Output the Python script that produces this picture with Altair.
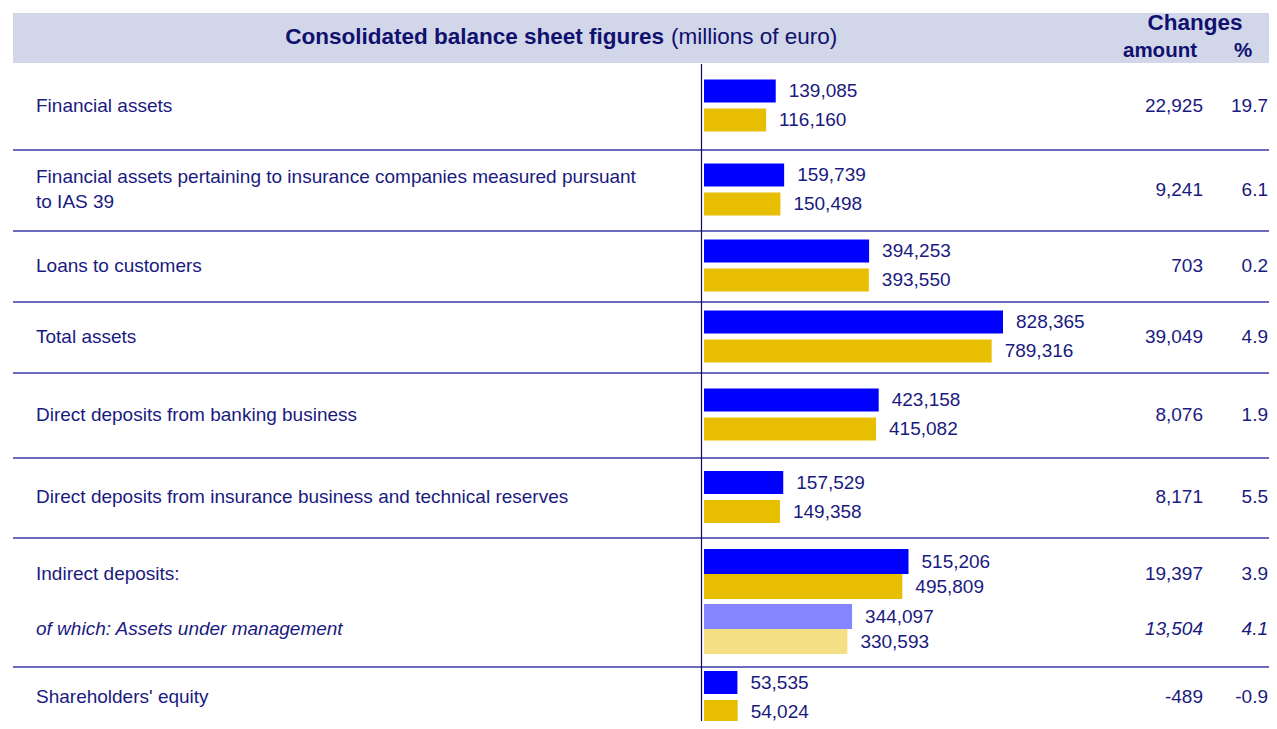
import altair as alt
import pandas as pd

# ---------------- data ----------------
labels = [
    "Financial assets",
    "Financial assets pertaining to insurance companies measured pursuant\nto IAS 39",
    "Loans to customers",
    "Total assets",
    "Direct deposits from banking business",
    "Direct deposits from insurance business and technical reserves",
    "Indirect deposits:",
    "of which: Assets under management",
    "Shareholders' equity",
]
current = [139085, 159739, 394253, 828365, 423158, 157529, 515206, 344097, 53535]
previous = [116160, 150498, 393550, 789316, 415082, 149358, 495809, 330593, 54024]
change_amount = [22925, 9241, 703, 39049, 8076, 8171, 19397, 13504, -489]
change_pct = [19.7, 6.1, 0.2, 4.9, 1.9, 5.5, 3.9, 4.1, -0.9]
section_of = [0, 1, 2, 3, 4, 5, 6, 6, 7]
is_sub_item = [False, False, False, False, False, False, False, True, False]

# ---------------- layout (not data) ----------------
W, H = 1261, 713
HEADER_TOP, HEADER_BOTTOM = 5, 55
SECTION_H = [87, 81, 71, 71, 85, 80, 129, 62]
SUBROW_STEP = 55
LINE_H = 25
TEXT = "#1a1a80"
FONT = "Liberation Sans"
FS = 19
BLUE, GOLD = "#0000ff", "#e8bf00"
BLUE_LIGHT, GOLD_LIGHT = "#8585ff", "#f4df85"

bounds = [HEADER_BOTTOM]
for h in SECTION_H:
    bounds.append(bounds[-1] + h)

centers = []
for i, s in enumerate(section_of):
    members = [k for k, t in enumerate(section_of) if t == s]
    n = len(members)
    j = members.index(i)
    sc = (bounds[s] + bounds[s + 1]) / 2
    centers.append(sc + (j - (n - 1) / 2) * SUBROW_STEP - 1)

rows = pd.DataFrame({
    "label": labels,
    "yc": centers,
    "ylab": [c - (lab.count("\n")) * LINE_H / 2 for c, lab in zip(centers, labels)],
    "amount": [f"{v:,}" for v in change_amount],
    "pct": [f"{v:.1f}" for v in change_pct],
    "sub": is_sub_item,
})

bar_rows = []
for i in range(len(labels)):
    multi = section_of.count(section_of[i]) > 1
    gap = 0 if multi else 3
    c = centers[i]
    for series, val, col, lcol in (("cur", current[i], BLUE, BLUE_LIGHT),
                                   ("prev", previous[i], GOLD, GOLD_LIGHT)):
        if series == "cur":
            y0, y1 = c - 26 + (1 if multi else 0), c - gap
        else:
            y0, y1 = c + gap, c + 26 - (1 if multi else 0)
        bar_rows.append({
            "value": val, "zero": 0,
            "y0": y0, "y1": y1, "ym": (y0 + y1) / 2,
            "fill": lcol if is_sub_item[i] else col,
            "txt": f"{val:,}",
        })
bars = pd.DataFrame(bar_rows)

seps = pd.DataFrame({"y": bounds[1:-1]})

yscale = alt.Scale(domain=[0, H], range=[0, H])
xscale = alt.Scale(type="pow", exponent=0.8, domain=[0, 828365], range=[696, 995])

header = alt.Chart(pd.DataFrame({"a": [0]})).mark_rect(color="#d2d6e9").encode(
    x=alt.value(5), x2=alt.value(W), y=alt.value(HEADER_TOP), y2=alt.value(HEADER_BOTTOM)
)

def htext(t, x, y, align, bold=True, size=22.5):
    return alt.Chart(pd.DataFrame({"t": [t]})).mark_text(
        align=align, baseline="middle", font=FONT, fontSize=size,
        fontWeight="bold" if bold else "normal", color="#10106e"
    ).encode(text="t:N", x=alt.value(x), y=alt.value(y))

title_b = htext("Consolidated balance sheet figures", 656, 29, "right")
title_r = htext("(millions of euro)", 663, 29, "left", bold=False)
chg = htext("Changes", 1187, 15, "center")
amt_h = htext("amount", 1152, 43, "center", size=20.5)
pct_h = htext("%", 1235, 43, "center", size=20.5)

sep = alt.Chart(seps).mark_rule(color="#3a3aa6", strokeWidth=1.5).encode(
    y=alt.Y("y:Q", scale=yscale, axis=None), x=alt.value(5), x2=alt.value(W)
)
vline = alt.Chart(pd.DataFrame({"a": [0]})).mark_rule(color="#0a0a5a", strokeWidth=1.2).encode(
    x=alt.value(693.5), y=alt.value(HEADER_BOTTOM + 1), y2=alt.value(H)
)

bar_layer = alt.Chart(bars).mark_bar().encode(
    x=alt.X("value:Q", scale=xscale, axis=None),
    x2="zero:Q",
    y=alt.Y("y0:Q", scale=yscale, axis=None),
    y2="y1:Q",
    fill=alt.Fill("fill:N", scale=None),
)
bar_txt = alt.Chart(bars).mark_text(
    align="left", baseline="middle", dx=13, font=FONT, fontSize=FS, color=TEXT
).encode(
    x=alt.X("value:Q", scale=xscale, axis=None),
    y=alt.Y("ym:Q", scale=yscale, axis=None),
    text="txt:N",
)

def row_text(field, yfield, x, align, sub):
    d = rows[rows["sub"] == sub]
    return alt.Chart(d).mark_text(
        align=align, baseline="middle", font=FONT, fontSize=FS, color=TEXT,
        fontStyle="italic" if sub else "normal", lineBreak="\n", lineHeight=LINE_H
    ).encode(
        x=alt.value(x), y=alt.Y(f"{yfield}:Q", scale=yscale, axis=None), text=f"{field}:N"
    )

texts = []
for sub in (False, True):
    texts += [row_text("label", "ylab", 28, "left", sub),
              row_text("amount", "yc", 1195, "right", sub),
              row_text("pct", "yc", 1260, "right", sub)]

chart = alt.layer(
    header, title_b, title_r, chg, amt_h, pct_h, sep, vline, bar_layer, bar_txt, *texts
).properties(
    width=W, height=H, padding=0, autosize="none"
).configure_view(stroke=None)

chart.save("out.html", embed_options={"renderer": "svg", "actions": False})
